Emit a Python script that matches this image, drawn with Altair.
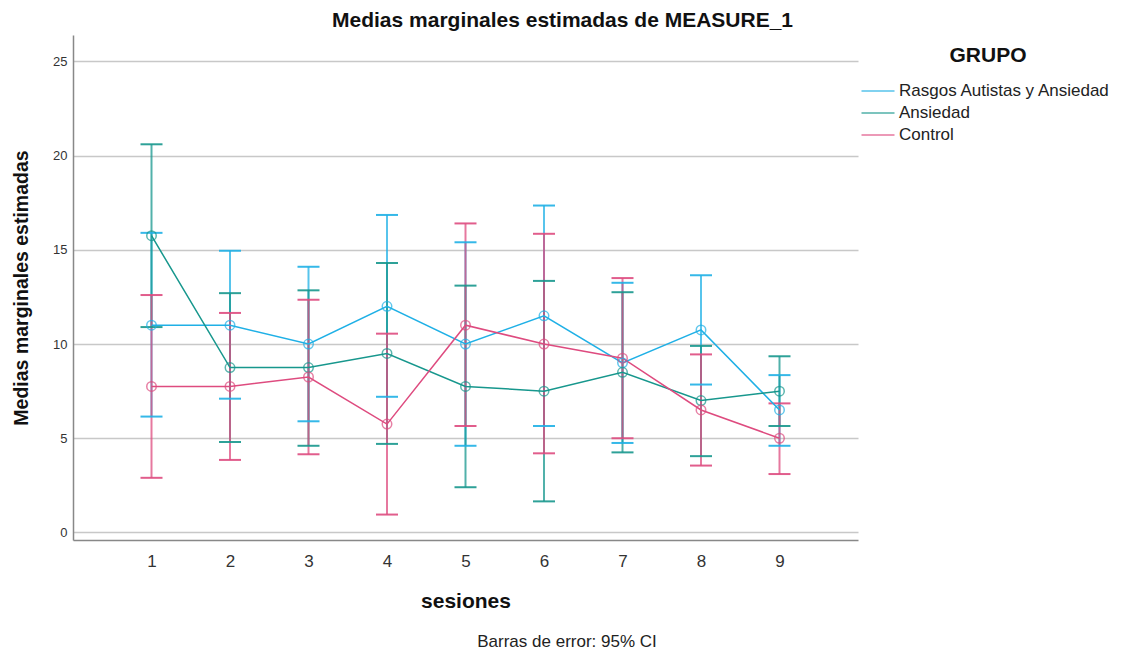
import altair as alt
import pandas as pd

sessions = [1, 2, 3, 4, 5, 6, 7, 8, 9]
groups = ["Rasgos Autistas y Ansiedad", "Ansiedad", "Control"]

rasgos_mean = [11, 11, 10, 12, 10, 11.5, 9, 10.75, 6.5]
rasgos_hi = [15.9, 14.95, 14.1, 16.85, 15.4, 17.35, 13.25, 13.65, 8.35]
rasgos_lo = [6.15, 7.1, 5.9, 7.2, 4.6, 5.65, 4.75, 7.85, 4.6]

ansiedad_mean = [15.75, 8.75, 8.75, 9.5, 7.75, 7.5, 8.5, 7, 7.5]
ansiedad_hi = [20.6, 12.7, 12.85, 14.3, 13.1, 13.35, 12.75, 9.9, 9.35]
ansiedad_lo = [10.9, 4.8, 4.6, 4.7, 2.4, 1.65, 4.25, 4.05, 5.65]

control_mean = [7.75, 7.75, 8.25, 5.75, 11, 10, 9.25, 6.5, 5]
control_hi = [12.6, 11.65, 12.35, 10.55, 16.4, 15.85, 13.5, 9.45, 6.85]
control_lo = [2.9, 3.85, 4.15, 0.95, 5.65, 4.2, 5.0, 3.55, 3.1]

colors = ["#1FB0E6", "#17978D", "#DE4B7F"]

rows = []
for g, m, hi, lo in [
    (groups[0], rasgos_mean, rasgos_hi, rasgos_lo),
    (groups[1], ansiedad_mean, ansiedad_hi, ansiedad_lo),
    (groups[2], control_mean, control_hi, control_lo),
]:
    for s, a, b, c in zip(sessions, m, hi, lo):
        rows.append({"sesion": s, "grupo": g, "media": a, "hi": b, "lo": c})
df = pd.DataFrame(rows)

FONT = "Liberation Sans"

xscale = alt.Scale(domain=[0, 10], nice=False, zero=False)
yscale = alt.Scale(domain=[-0.4, 26.4], nice=False, zero=False)
cscale = alt.Scale(domain=groups, range=colors)

x = alt.X("sesion:Q", scale=xscale,
          axis=alt.Axis(values=sessions, title="sesiones", grid=False, ticks=False,
                        labelFontSize=17, labelColor="#333333", labelPadding=13,
                        titleFontSize=21, titleFontWeight="bold", titlePadding=21,
                        titleColor="#111111", domainColor="#888888", domainWidth=1.5,
                        labelFont=FONT, titleFont=FONT))
y = alt.Y("media:Q", scale=yscale,
          axis=alt.Axis(values=[0, 5, 10, 15, 20, 25], title="Medias marginales estimadas",
                        ticks=False, grid=True, gridColor="#c8c8c8", gridWidth=1.5,
                        labelFontSize=13, labelColor="#333333", labelPadding=6,
                        titleFontSize=19.5, titleFontWeight="bold", titlePadding=21,
                        titleColor="#111111", domainColor="#888888", domainWidth=1.5,
                        labelFont=FONT, titleFont=FONT))
color = alt.Color("grupo:N", scale=cscale, sort=groups,
                  legend=alt.Legend(title="GRUPO", orient="none", legendX=793, legendY=10,
                                    symbolType="M-1.5,0H1.5", symbolSize=484, symbolStrokeWidth=1.5,
                                    labelFontSize=17, labelColor="#222222", labelOffset=9,
                                    titleFontSize=21, titleFontWeight="bold", titleColor="#111111",
                                    titleAnchor="middle", titlePadding=13, rowPadding=2,
                                    labelFont=FONT, titleFont=FONT, labelLimit=400))

base = alt.Chart(df)

bars = base.mark_rule(strokeWidth=2, opacity=0.75).encode(
    x=x, y=alt.Y("lo:Q", scale=yscale), y2="hi:Q", color=color)
cap_hi = base.mark_tick(orient="horizontal", size=22, thickness=2, opacity=0.9).encode(
    x=x, y=alt.Y("hi:Q", scale=yscale), color=color)
cap_lo = base.mark_tick(orient="horizontal", size=22, thickness=2, opacity=0.9).encode(
    x=x, y=alt.Y("lo:Q", scale=yscale), color=color)
lines = base.mark_line(strokeWidth=1.5).encode(x=x, y=y, color=color, detail="grupo:N")
points = base.mark_point(shape="circle", filled=False, size=90, strokeWidth=1.5).encode(
    x=x, y=y, color=color)

foot = alt.Chart(pd.DataFrame({"t": ["Barras de error: 95% CI"]})).mark_text(
    fontSize=17, font=FONT, color="#222222", align="center", baseline="middle").encode(
    text="t:N", x=alt.value(494), y=alt.value(607))

chart = alt.layer(bars, cap_hi, cap_lo, lines, points, foot).properties(
    width=785, height=505,
    background="white",
    title=alt.TitleParams("Medias marginales estimadas de MEASURE_1", fontSize=21, fontWeight="bold",
                          font=FONT, color="#111111", anchor="middle", dx=97, offset=4),
    autosize=alt.AutoSizeParams(type="none"),
    padding={"left": 65, "top": 27, "right": 273, "bottom": 111},
).configure_view(stroke=None)

chart.save("out.html", embed_options={"renderer": "svg", "actions": False})
